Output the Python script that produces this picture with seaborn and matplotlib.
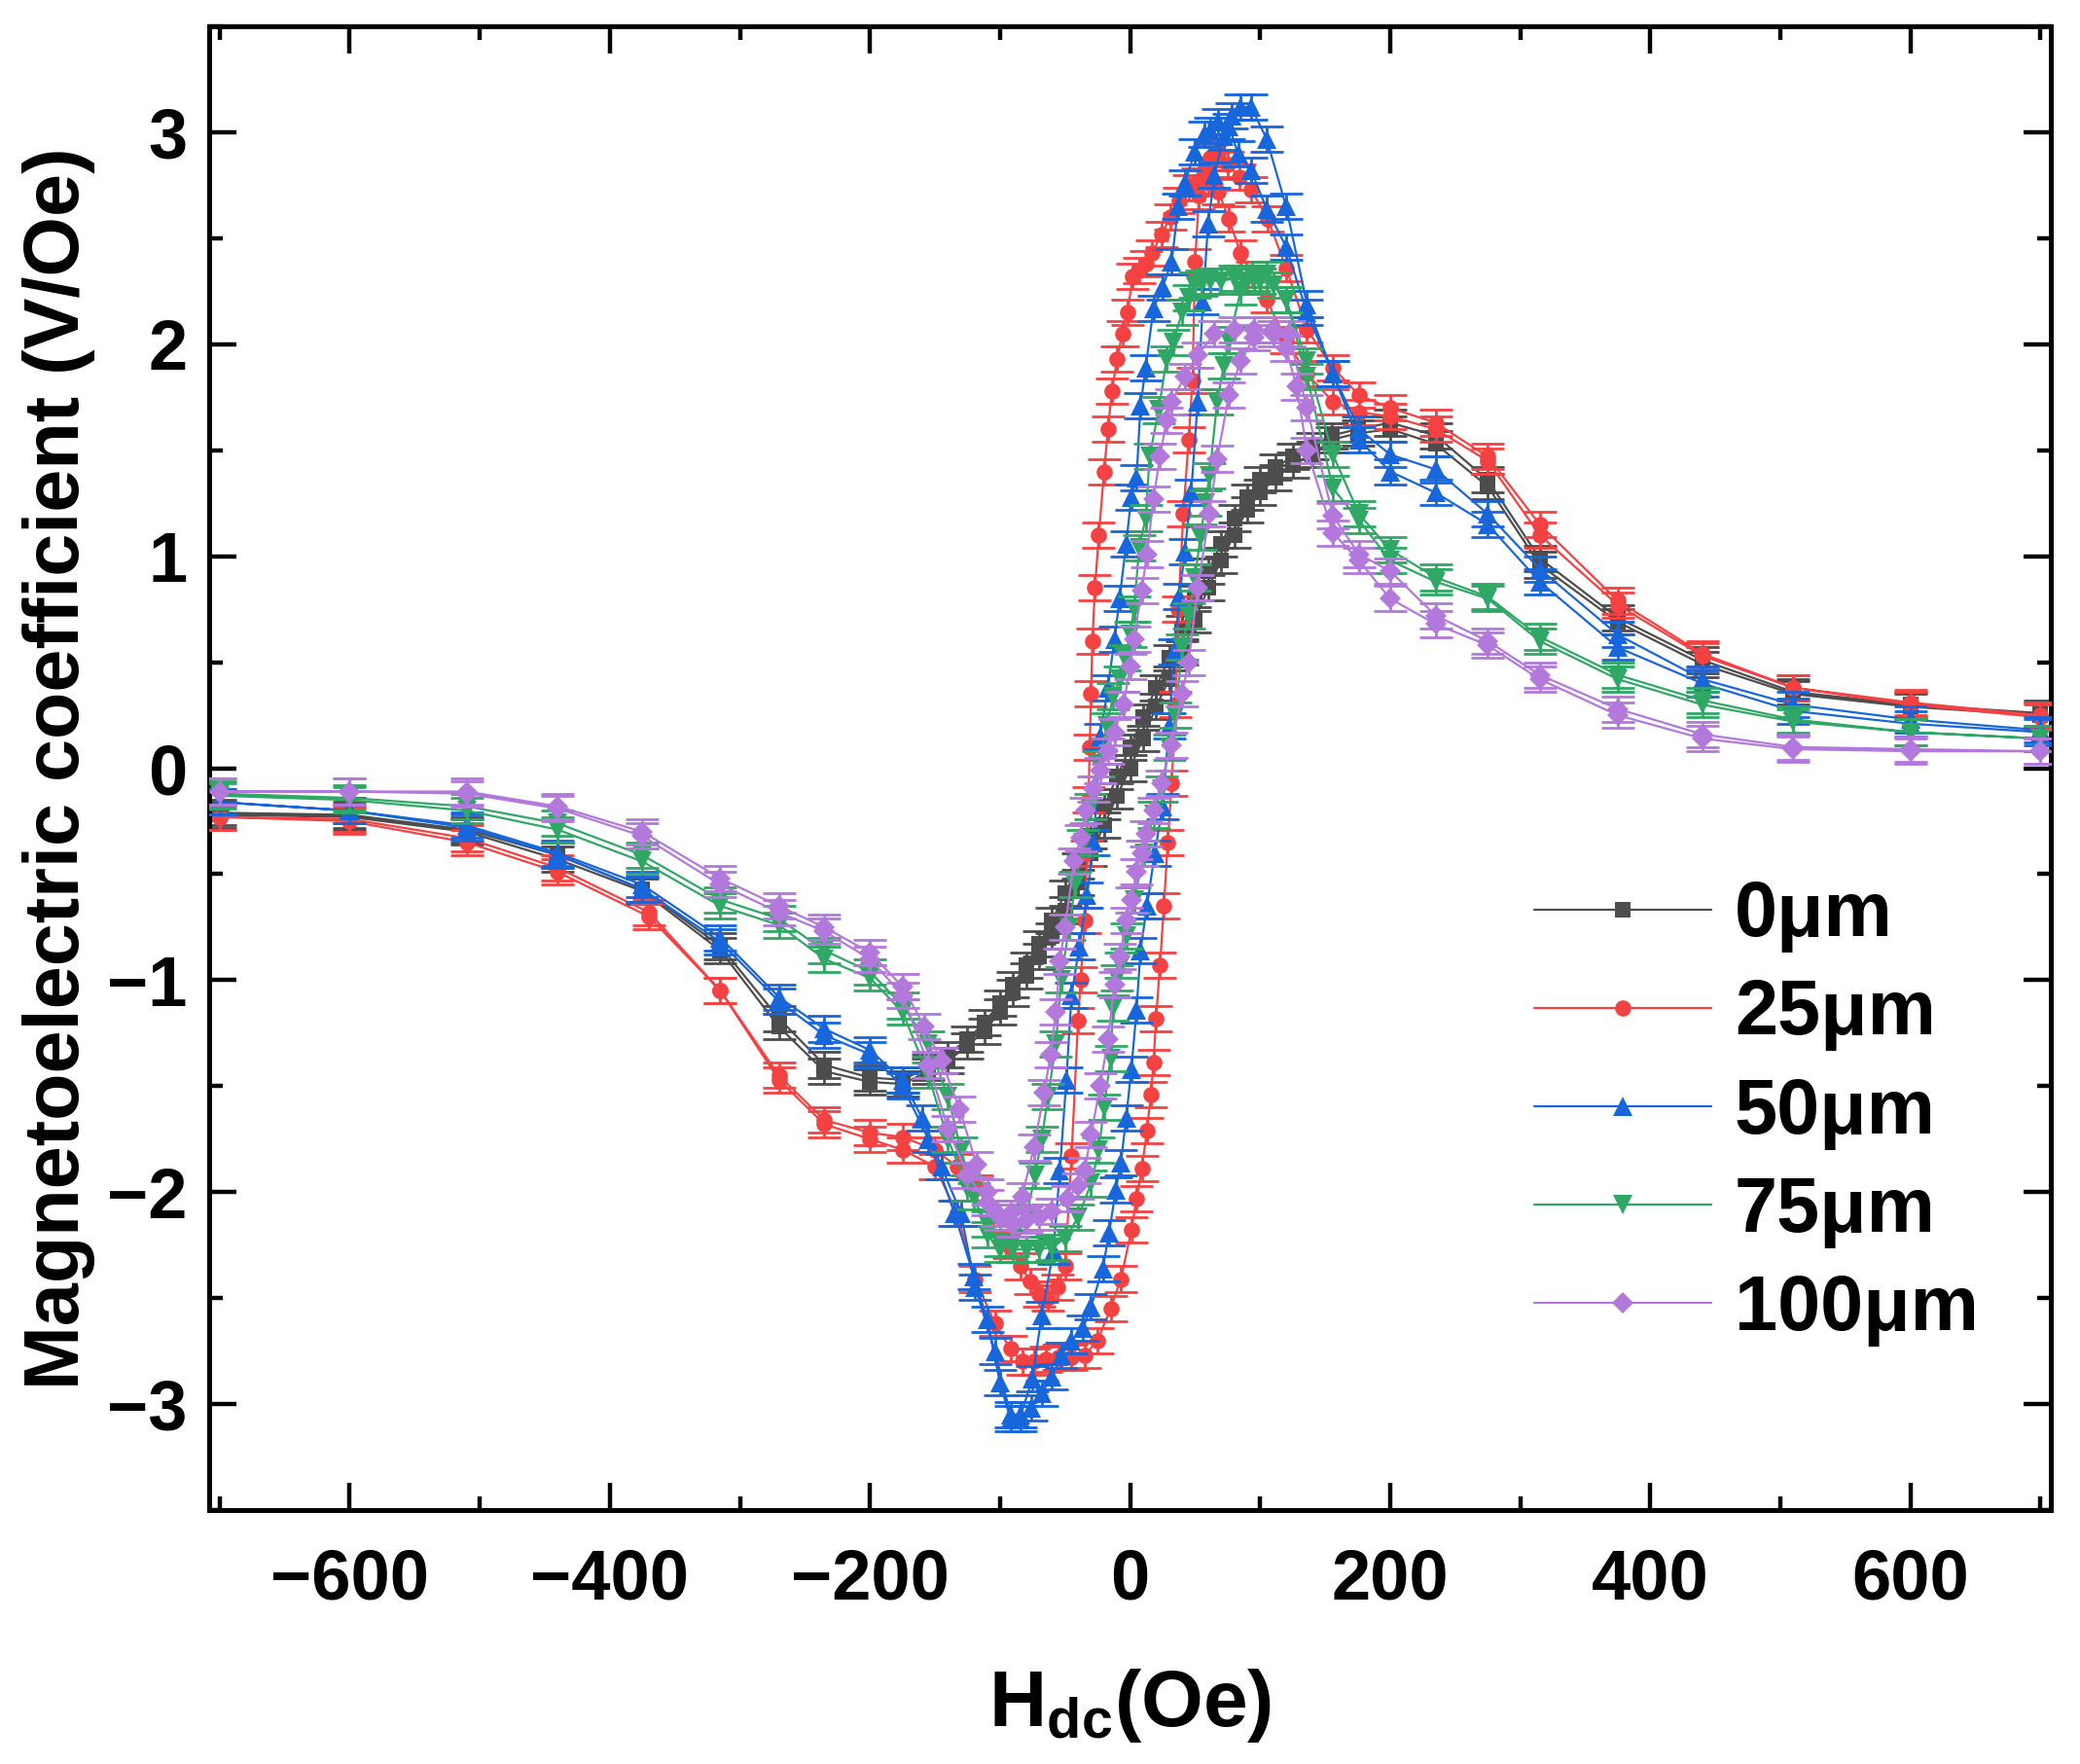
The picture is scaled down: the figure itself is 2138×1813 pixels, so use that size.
import numpy as np
import pandas as pd
import matplotlib
matplotlib.use("Agg")
import matplotlib.pyplot as plt
from matplotlib.ticker import AutoMinorLocator
import seaborn as sns

# ME hysteresis loops
# each sample: descending sweep (+700 -> -700) then ascending sweep (-700 -> +700)

# 0 um
h_0_down = [700, 600, 510, 440, 375, 315, 275, 235, 200, 175, 155, 140, 125, 112, 100, 90, 80, 70, 60, 50,
            40, 30, 20, 10, 0, -10, -20, -30, -40, -50, -60, -70, -80, -90, -100, -112, -125, -140, -155, -175,
            -200, -235, -270, -315, -375, -440, -510, -600, -700]
me_0_down = [0.26, 0.30, 0.36, 0.51, 0.71, 0.99, 1.36, 1.57, 1.63, 1.60, 1.57, 1.52, 1.47, 1.42, 1.36, 1.28, 1.18, 1.06, 0.93, 0.80,
             0.66, 0.52, 0.38, 0.24, 0.10, -0.04, -0.18, -0.32, -0.46, -0.59, -0.72, -0.83, -0.93, -1.02, -1.11, -1.20, -1.28, -1.35, -1.41, -1.47,
             -1.46, -1.40, -1.18, -0.84, -0.57, -0.41, -0.29, -0.22, -0.21]
h_0_up = [-700, -600, -510, -440, -375, -315, -270, -235, -200, -175, -155, -140, -125, -112, -100, -90, -80, -70, -60, -50,
          -40, -30, -20, -10, 0, 10, 20, 30, 40, 50, 60, 70, 80, 90, 100, 112, 125, 140, 155, 175,
          200, 235, 275, 315, 375, 440, 510, 600, 700]
me_0_up = [-0.22, -0.23, -0.30, -0.43, -0.58, -0.86, -1.22, -1.43, -1.48, -1.49, -1.43, -1.38, -1.31, -1.24, -1.15, -1.06, -0.98, -0.89, -0.79, -0.67,
           -0.54, -0.40, -0.27, -0.13, 0.00, 0.14, 0.29, 0.42, 0.55, 0.70, 0.85, 0.98, 1.10, 1.22, 1.30, 1.37, 1.43, 1.48, 1.55, 1.58,
           1.60, 1.53, 1.33, 0.96, 0.69, 0.49, 0.35, 0.29, 0.25]

# 25 um
h_25_down = [700, 600, 510, 440, 375, 315, 275, 235, 200, 176, 156, 136, 120, 105, 94, 85, 76, 68, 60, 52,
             45, 38, 31, 24, 17, 12, 7, 2, -2, -6, -10, -14, -17, -20, -24, -27, -29, -30, -31, -32,
             -33, -35, -38, -40, -45, -50, -56, -63, -70, -77, -84, -93, -105, -118, -133, -150, -175, -200, -235, -270,
             -315, -370, -440, -510, -600, -700]
me_25_down = [0.24, 0.30, 0.38, 0.53, 0.77, 1.10, 1.45, 1.60, 1.66, 1.68, 1.73, 1.86, 2.02, 2.21, 2.33, 2.43, 2.59, 2.72, 2.76, 2.77,
              2.74, 2.68, 2.60, 2.52, 2.43, 2.38, 2.35, 2.32, 2.15, 2.05, 1.93, 1.78, 1.60, 1.40, 1.10, 0.85, 0.60, 0.35, 0.10, -0.15,
              -0.40, -0.72, -1.00, -1.19, -1.83, -2.35, -2.45, -2.50, -2.48, -2.42, -2.35, -2.25, -2.10, -1.98, -1.88, -1.80, -1.74, -1.72, -1.66, -1.45,
              -1.05, -0.68, -0.47, -0.33, -0.24, -0.23]
h_25_up = [-700, -600, -510, -440, -370, -315, -270, -235, -200, -175, -150, -133, -119, -104, -92, -83, -74, -65, -55, -45,
           -35, -25, -15, -7, 1, 5, 9, 13, 16, 18, 20, 23, 26, 29, 32, 35, 37, 41, 45, 48,
           50, 53, 57, 62, 68, 75, 84, 93, 106, 120, 136, 156, 176, 200, 235, 275, 315, 375, 440, 510,
           600, 700]
me_25_up = [-0.23, -0.25, -0.35, -0.49, -0.70, -1.05, -1.47, -1.68, -1.75, -1.80, -1.88, -2.10, -2.41, -2.62, -2.74, -2.80, -2.80, -2.79, -2.78, -2.78,
            -2.77, -2.70, -2.55, -2.41, -2.18, -2.03, -1.89, -1.71, -1.54, -1.39, -1.18, -0.93, -0.65, -0.35, -0.07, 0.30, 0.75, 1.20, 1.55, 1.83,
            2.39, 2.70, 2.82, 2.88, 2.90, 2.85, 2.79, 2.73, 2.59, 2.36, 2.07, 1.89, 1.76, 1.70, 1.63, 1.47, 1.15, 0.79, 0.54, 0.38,
            0.31, 0.25]

# 50 um
h_50_down = [700, 600, 510, 440, 375, 315, 275, 235, 200, 176, 156, 136, 120, 105, 93, 83, 76, 68, 62, 57,
             50, 42, 37, 32, 25, 18, 12, 8, 5, 1, -3, -8, -12, -17, -23, -28, -33, -39, -45, -49,
             -54, -59, -68, -75, -84, -92, -104, -119, -130, -145, -160, -175, -200, -235, -270, -315, -375, -440, -510, -600,
             -700]
me_50_down = [0.17, 0.21, 0.27, 0.40, 0.57, 0.88, 1.15, 1.30, 1.40, 1.55, 1.86, 2.15, 2.46, 2.64, 2.82, 2.90, 3.03, 3.05, 3.01, 2.99,
              2.91, 2.76, 2.65, 2.39, 2.27, 2.17, 1.89, 1.71, 1.37, 1.28, 1.06, 0.80, 0.61, 0.38, 0.15, -0.35, -0.60, -0.84, -1.07, -1.47,
              -1.90, -2.28, -2.58, -2.88, -3.05, -3.05, -2.75, -2.45, -2.10, -1.88, -1.65, -1.47, -1.33, -1.23, -1.08, -0.80, -0.55, -0.40, -0.27, -0.20,
              -0.16]
h_50_up = [-700, -600, -510, -440, -375, -315, -270, -235, -200, -175, -155, -135, -120, -110, -100, -92, -84, -76, -68, -60,
           -53, -45, -36, -30, -21, -16, -11, -7, -3, 1, 5, 8, 13, 19, 25, 30, 34, 38, 42, 47,
           52, 56, 60, 65, 72, 78, 85, 93, 105, 120, 136, 156, 176, 200, 235, 275, 315, 375, 440, 510,
           600, 700]
me_50_up = [-0.16, -0.20, -0.28, -0.41, -0.57, -0.82, -1.10, -1.26, -1.35, -1.50, -1.75, -2.10, -2.40, -2.60, -2.90, -3.07, -3.07, -3.02, -2.95, -2.87,
            -2.77, -2.70, -2.64, -2.54, -2.36, -2.19, -1.99, -1.86, -1.65, -1.42, -1.14, -0.86, -0.65, -0.40, -0.18, 0.20, 0.55, 0.81, 1.02, 1.30,
            1.73, 2.20, 2.57, 2.80, 2.98, 3.08, 3.12, 3.12, 2.97, 2.65, 2.19, 1.86, 1.60, 1.48, 1.41, 1.20, 0.94, 0.63, 0.42, 0.30,
            0.23, 0.18]

# 75 um
h_75_down = [700, 600, 510, 440, 375, 315, 275, 235, 200, 176, 156, 136, 120, 110, 100, 90, 80, 70, 62, 55,
             50, 45, 40, 33, 28, 22, 15, 12, 7, 3, 0, -4, -8, -13, -18, -24, -30, -36, -42, -47,
             -53, -57, -63, -68, -73, -80, -90, -100, -110, -120, -130, -140, -155, -175, -200, -235, -270, -315, -375, -440,
             -510, -600, -700]
me_75_down = [0.14, 0.17, 0.22, 0.30, 0.42, 0.60, 0.80, 0.88, 0.98, 1.17, 1.32, 1.85, 2.21, 2.28, 2.30, 2.30, 2.31, 2.30, 2.30, 2.29,
              2.28, 2.22, 2.15, 2.01, 1.93, 1.69, 1.47, 1.18, 1.04, 0.75, 0.63, 0.52, 0.42, 0.34, 0.20, 0.02, -0.18, -0.35, -0.55, -0.75,
              -1.00, -1.30, -1.55, -1.75, -1.92, -2.12, -2.24, -2.27, -2.20, -2.02, -1.80, -1.55, -1.30, -1.12, -0.96, -0.86, -0.71, -0.62, -0.41, -0.26,
              -0.18, -0.14, -0.12]
h_75_up = [-700, -600, -510, -440, -375, -315, -270, -235, -200, -175, -155, -140, -125, -110, -100, -90, -80, -70, -60, -50,
           -40, -30, -24, -20, -15, -13, -10, -7, -3, 3, 11, 18, 24, 30, 35, 40, 45, 50, 54, 58,
           61, 67, 72, 76, 85, 95, 105, 120, 136, 156, 176, 200, 235, 275, 315, 375, 440, 510, 600, 700]
me_75_up = [-0.13, -0.15, -0.20, -0.29, -0.44, -0.65, -0.74, -0.90, -0.99, -1.15, -1.45, -1.75, -1.98, -2.15, -2.24, -2.27, -2.27, -2.27, -2.26, -2.22,
            -2.12, -1.96, -1.80, -1.60, -1.37, -1.13, -0.99, -0.93, -0.79, -0.62, -0.40, -0.22, -0.10, 0.10, 0.25, 0.57, 0.72, 0.90, 1.09, 1.25,
            1.38, 1.73, 1.90, 2.02, 2.25, 2.31, 2.33, 2.21, 1.92, 1.48, 1.20, 1.03, 0.90, 0.81, 0.62, 0.44, 0.32, 0.23, 0.17, 0.14]

# 100 um
h_100_down = [700, 600, 510, 440, 375, 315, 275, 235, 200, 176, 156, 136, 128, 120, 110, 95, 80, 65, 52, 42,
              32, 28, 23, 18, 13, 9, 3, 0, -5, -12, -17, -23, -28, -34, -38, -43, -50, -54, -57, -61,
              -66, -74, -83, -92, -102, -110, -118, -131, -145, -158, -175, -200, -235, -270, -315, -375, -440, -510, -600, -700]
me_100_down = [0.08, 0.08, 0.09, 0.14, 0.25, 0.42, 0.58, 0.68, 0.80, 0.98, 1.11, 1.50, 1.80, 1.98, 2.05, 2.07, 2.07, 2.05, 1.95, 1.85,
               1.73, 1.64, 1.47, 1.27, 1.01, 0.84, 0.61, 0.48, 0.30, 0.17, 0.08, -0.01, -0.10, -0.20, -0.33, -0.44, -0.75, -0.91, -1.15, -1.35,
               -1.53, -1.79, -2.02, -2.10, -2.10, -2.00, -1.87, -1.61, -1.38, -1.22, -1.03, -0.87, -0.75, -0.65, -0.52, -0.30, -0.18, -0.11, -0.11, -0.11]
h_100_up = [-700, -600, -510, -440, -375, -315, -270, -235, -200, -175, -155, -140, -125, -110, -100, -90, -80, -70, -60, -48,
            -40, -35, -30, -23, -17, -12, -8, -3, 1, 5, 9, 12, 18, 24, 32, 40, 45, 52, 61, 67,
            76, 85, 95, 110, 122, 136, 156, 176, 200, 235, 275, 315, 375, 440, 510, 600, 700]
me_100_up = [-0.11, -0.11, -0.12, -0.19, -0.32, -0.55, -0.68, -0.77, -0.90, -1.07, -1.40, -1.70, -1.92, -2.05, -2.12, -2.15, -2.13, -2.12, -2.09, -2.03,
             -1.97, -1.90, -1.73, -1.50, -1.28, -1.02, -0.89, -0.72, -0.62, -0.49, -0.40, -0.31, -0.20, -0.07, 0.11, 0.35, 0.50, 0.85, 1.20, 1.46,
             1.76, 1.92, 2.03, 2.07, 2.05, 1.70, 1.19, 1.01, 0.93, 0.72, 0.60, 0.44, 0.28, 0.16, 0.10, 0.09, 0.08]

labels = ["0μm", "25μm", "50μm", "75μm", "100μm"]
colors = ["#4d4d4d", "#f44242", "#1866dc", "#2fa865", "#b378dc"]
markers = ["s", "o", "^", "v", "D"]
msizes = [11, 12, 14, 14, 11]
err = [0.06, 0.06, 0.06, 0.06, 0.06]

loops = [
    (h_0_down + h_0_up, me_0_down + me_0_up),
    (h_25_down + h_25_up, me_25_down + me_25_up),
    (h_50_down + h_50_up, me_50_down + me_50_up),
    (h_75_down + h_75_up, me_75_down + me_75_up),
    (h_100_down + h_100_up, me_100_down + me_100_up),
]

sns.set_style("ticks")
plt.rcParams["font.family"] = ["Liberation Sans", "DejaVu Sans"]
plt.rcParams["font.weight"] = "bold"
plt.rcParams["mathtext.fontset"] = "custom"
plt.rcParams["mathtext.rm"] = "Liberation Sans:bold"
plt.rcParams["mathtext.bf"] = "Liberation Sans:bold"
plt.rcParams["mathtext.it"] = "Liberation Sans:bold"
for key in ["text.color", "axes.labelcolor", "xtick.color", "ytick.color", "axes.edgecolor"]:
    plt.rcParams[key] = "black"

fig = plt.figure(figsize=(21.38, 18.13), dpi=100)
ax = fig.add_axes([0.1006, 0.144, 0.8854, 0.841])

for i, (h, me) in enumerate(loops):
    df = pd.DataFrame({"H": h, "ME": me})
    ax.errorbar(df["H"], df["ME"], yerr=err[i], fmt="none", ecolor=colors[i],
                elinewidth=2, capsize=12, capthick=2, zorder=2 + i)
    sns.lineplot(data=df, x="H", y="ME", sort=False, estimator=None, ax=ax,
                 color=colors[i], marker=markers[i], markersize=msizes[i],
                 markeredgewidth=0, linewidth=1.6, label=labels[i], zorder=2.5 + i)

ax.set_xlim(-708, 708)
ax.set_ylim(-3.5, 3.5)
ax.set_xticks([-600, -400, -200, 0, 200, 400, 600])
ax.set_yticks([-3, -2, -1, 0, 1, 2, 3])
ax.xaxis.set_minor_locator(AutoMinorLocator(2))
ax.yaxis.set_minor_locator(AutoMinorLocator(2))
ax.tick_params(which="both", direction="in", top=True, right=True, width=3.2)
ax.tick_params(which="major", length=20, labelsize=52)
ax.tick_params(which="minor", length=10)
ax.tick_params(axis="x", which="major", pad=28)
ax.tick_params(axis="y", which="major", pad=16)
for s in ax.spines.values():
    s.set_linewidth(3.6)
    s.set_color("black")

ax.set_xlabel("H$_{\\mathbf{dc}}$(Oe)", fontsize=59, fontweight="bold", labelpad=39)
ax.set_ylabel("Magnetoelectric coefficient (V/Oe)", fontsize=57, fontweight="bold", labelpad=9)

ax.legend(loc="center left", bbox_to_anchor=(0.7376, 0.369), bbox_transform=fig.transFigure,
          frameon=False, fontsize=57, handlelength=2.3, handletextpad=0.3,
          labelspacing=0.33, borderpad=0, borderaxespad=0)

fig.savefig("out.png", dpi=100)
